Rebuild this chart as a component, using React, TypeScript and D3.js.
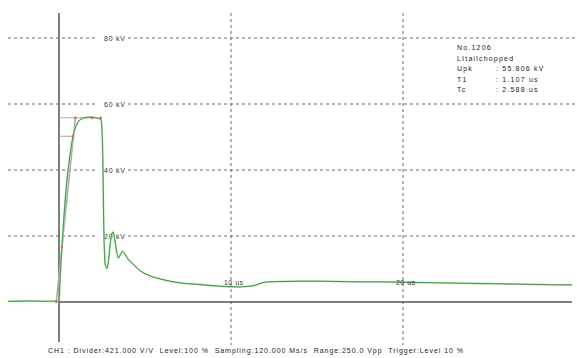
import { useEffect, useRef } from "react";
import * as d3 from "d3";

// impulse record: time in us, voltage in kV
const TIME_US = [
  -2.97, -1.8, -0.6, -0.05, 0.0, 0.058, 0.116, 0.174, 0.233, 0.291, 0.378, 0.465, 0.552, 0.64,
  0.727, 0.814, 0.93, 1.047, 1.221, 1.453, 1.686, 1.919, 2.151, 2.326, 2.442, 2.5, 2.558, 2.587,
  2.645, 2.703, 2.791, 2.878, 2.965, 3.052, 3.14, 3.227, 3.343, 3.459, 3.576, 3.692, 3.837, 4.012,
  4.244, 4.477, 4.709, 5.0, 5.29, 5.87, 6.45, 7.03, 7.62, 8.2, 8.78, 9.36, 9.94, 10.52, 11.1,
  11.45, 11.8, 12.15, 12.85, 14.01, 15.17, 16.34, 17.5, 18.66, 19.83, 20.99, 22.15, 23.31, 24.48,
  25.64, 26.8, 27.97, 29.13, 29.83,
];
const VOLT_KV = [
  0.2, 0.3, 0.2, 0.3, 0.5, 6, 12, 16.7, 21.5, 26, 32, 37, 41, 44.5, 47.5, 50.2, 52.5, 54, 55.2,
  55.8, 56.0, 56.0, 55.8, 55.6, 55.2, 52, 40, 28, 15, 11, 10.2, 12.5, 17, 20.3, 21.2, 19.5, 15.5,
  13.3, 14.5, 15.3, 14.5, 13, 11.8, 10.6, 9.5, 8.6, 7.9, 7.0, 6.3, 5.8, 5.5, 5.3, 5.0, 4.8, 4.6,
  4.6, 4.8, 5.1, 5.8, 6.1, 6.2, 6.3, 6.3, 6.2, 6.1, 6.1, 6.0, 5.9, 5.8, 5.7, 5.6, 5.5, 5.4, 5.3,
  5.2, 5.2,
];

const V_TICKS = [20, 40, 60, 80];
const T_TICKS = [10, 20];

const UPK = 55.806;
const T1 = 1.107;
const TC = 2.588;
const T30 = 0.174;
const T90 = 0.814;
const T_PEAK = 1.919;

const INFO = [
  ["No.1206", ""],
  ["LItailchopped", ""],
  ["Upk", ": 55.806 kV"],
  ["T1", ": 1.107 us"],
  ["Tc", ": 2.588 us"],
];

const FOOTER =
  "CH1 : Divider:421.000 V/V  Level:100 %  Sampling:120.000 Ms/s  Range:250.0 Vpp  Trigger:Level 10 %";

const W = 577;
const H = 358;
const FONT = "'Liberation Sans', Arial, sans-serif";

export default function App() {
  const svgRef = useRef<SVGSVGElement>(null);

  useEffect(() => {
    if (!svgRef.current) return;
    const svg = d3.select(svgRef.current);
    svg.selectAll("*").remove();

    const x = d3.scaleLinear().domain([0, 10]).range([59, 231]);
    const y = d3.scaleLinear().domain([0, 20]).range([302, 236]);

    svg.append("rect").attr("width", W).attr("height", H).attr("fill", "#fff");

    // horizontal dashed grid with kV labels
    V_TICKS.forEach((v) => {
      svg
        .append("line")
        .attr("x1", 8)
        .attr("x2", W)
        .attr("y1", y(v))
        .attr("y2", y(v))
        .attr("stroke", "#666")
        .attr("stroke-width", 1)
        .attr("stroke-dasharray", "3 3");
      svg.append("rect").attr("x", 97).attr("y", y(v) - 4).attr("width", 31).attr("height", 8).attr("fill", "#fff");
      svg
        .append("text")
        .attr("x", 104)
        .attr("y", y(v) + 2.5)
        .attr("font-family", FONT)
        .attr("font-size", 7)
        .attr("fill", "#333")
        .attr("textLength", 21)
        .attr("lengthAdjust", "spacing")
        .text(`${v} kV`);
    });

    // vertical dashed grid
    T_TICKS.forEach((t) => {
      svg
        .append("line")
        .attr("x1", x(t))
        .attr("x2", x(t))
        .attr("y1", 13)
        .attr("y2", 345)
        .attr("stroke", "#666")
        .attr("stroke-width", 1)
        .attr("stroke-dasharray", "3 3");
    });

    // axes
    svg
      .append("line")
      .attr("x1", x(0))
      .attr("x2", x(0))
      .attr("y1", 13)
      .attr("y2", 342)
      .attr("stroke", "#555")
      .attr("stroke-width", 1.5);
    svg
      .append("line")
      .attr("x1", x(0))
      .attr("x2", 572)
      .attr("y1", y(0))
      .attr("y2", y(0))
      .attr("stroke", "#555")
      .attr("stroke-width", 1.5);

    // front time construction
    const o1 = T30 - 0.3 * T1;
    const construct = "#aaa";
    svg
      .append("line")
      .attr("x1", x(o1))
      .attr("y1", y(0))
      .attr("x2", x(o1 + T1))
      .attr("y2", y(UPK))
      .attr("stroke", construct)
      .attr("stroke-width", 1.5);
    svg
      .append("line")
      .attr("x1", x(0))
      .attr("x2", x(o1 + TC))
      .attr("y1", y(UPK))
      .attr("y2", y(UPK))
      .attr("stroke", construct);
    svg
      .append("line")
      .attr("x1", x(0))
      .attr("x2", x(T90))
      .attr("y1", y(0.9 * UPK))
      .attr("y2", y(0.9 * UPK))
      .attr("stroke", construct);

    // waveform
    const pts = TIME_US.map((t, i) => [t, VOLT_KV[i]] as [number, number]);
    const line = d3
      .line<[number, number]>()
      .x((d) => x(d[0]))
      .y((d) => y(d[1]))
      .curve(d3.curveMonotoneX);
    svg
      .append("path")
      .datum(pts)
      .attr("d", line)
      .attr("fill", "none")
      .attr("stroke", "#b5e0b5")
      .attr("stroke-width", 1.8);
    svg
      .append("path")
      .datum(pts)
      .attr("d", line)
      .attr("fill", "none")
      .attr("stroke", "#2e8f2e")
      .attr("stroke-width", 0.9);

    // markers
    const marks: [number, number][] = [
      [o1, 0],
      [T30, 0.3 * UPK],
      [T90, 0.9 * UPK],
      [o1 + T1, UPK],
      [T_PEAK, UPK],
      [o1 + TC, UPK],
    ];
    marks.forEach(([t, v]) => {
      svg.append("circle").attr("cx", x(t)).attr("cy", y(v)).attr("r", 1.3).attr("fill", "#e06060");
    });

    // time labels
    T_TICKS.forEach((t) => {
      svg
        .append("text")
        .attr("x", x(t) - 7)
        .attr("y", 285)
        .attr("font-family", FONT)
        .attr("font-size", 7)
        .attr("fill", "#333")
        .attr("textLength", 19)
        .attr("lengthAdjust", "spacing")
        .text(`${t} us`);
    });

    // info block
    INFO.forEach(([k, v], i) => {
      const ty = 50 + i * 10.5;
      svg
        .append("text")
        .attr("x", 457)
        .attr("y", ty)
        .attr("font-family", FONT)
        .attr("font-size", 7)
        .attr("letter-spacing", 1.2)
        .attr("fill", "#222")
        .text(k);
      if (v) {
        svg
          .append("text")
          .attr("x", 496)
          .attr("y", ty)
          .attr("font-family", FONT)
          .attr("font-size", 7)
          .attr("letter-spacing", 1.2)
          .attr("fill", "#222")
          .text(v);
      }
    });

    svg
      .append("text")
      .attr("x", 48)
      .attr("y", 353)
      .attr("font-family", FONT)
      .attr("font-size", 7)
      .attr("fill", "#222")
      .attr("textLength", 415)
      .attr("lengthAdjust", "spacing")
      .style("white-space", "pre")
      .text(FOOTER);
  }, []);

  return (
    <svg
      ref={svgRef}
      width={W}
      height={H}
      style={{ position: "absolute", left: 0, top: 0, display: "block" }}
    />
  );
}
